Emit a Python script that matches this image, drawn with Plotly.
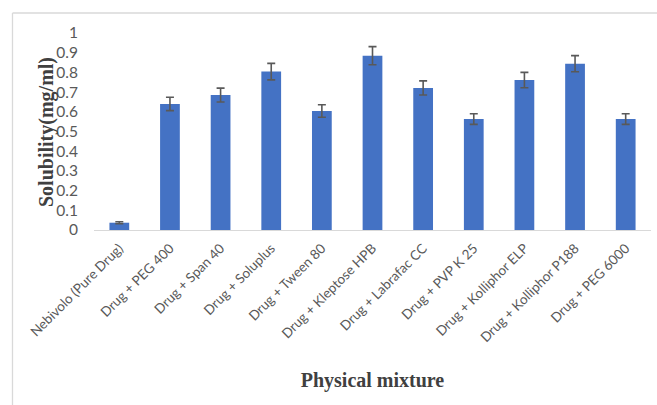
import plotly.graph_objects as go

categories = ["Nebivolo (Pure Drug)", "Drug + PEG 400", "Drug + Span 40", "Drug + Soluplus",
              "Drug + Tween 80", "Drug + Kleptose HPB", "Drug + Labrafac CC", "Drug + PVP K 25",
              "Drug + Kolliphor ELP", "Drug + Kolliphor P188", "Drug + PEG 6000"]
solubility = [0.037, 0.640, 0.685, 0.804, 0.604, 0.885, 0.721, 0.563, 0.761, 0.844, 0.563]
errors = [0.005, 0.034, 0.035, 0.042, 0.032, 0.046, 0.036, 0.027, 0.039, 0.041, 0.027]
y_ticks = [0, 0.1, 0.2, 0.3, 0.4, 0.5, 0.6, 0.7, 0.8, 0.9, 1]
y_tick_text = ["0", "0.1", "0.2", "0.3", "0.4", "0.5", "0.6", "0.7", "0.8", "0.9", "1"]
y_title = "Solubility(mg/ml)"
x_title = "Physical mixture"

fig = go.Figure()
fig.add_trace(go.Bar(
    x=categories, y=solubility,
    marker=dict(color="#4472C4", line=dict(width=0)),
    width=0.39,
    error_y=dict(type="data", array=errors, visible=True, color="#595959", thickness=1.6, width=4),
))

W, H = 657, 405
ml, mr, mt, mb = 94, 6, 33, 175
pw, ph = W - ml - mr, H - mt - mb

def px_x(x):
    return (x - ml) / pw

def px_y(y):
    return (H - mb - y) / ph

fig.update_layout(
    width=W, height=H,
    margin=dict(l=ml, r=mr, t=mt, b=mb, pad=0, autoexpand=False),
    paper_bgcolor="white", plot_bgcolor="white",
    showlegend=False,
    bargap=0.61,
    font=dict(family="Lato, Liberation Sans, sans-serif", color="#595959"),
    xaxis=dict(
        tickangle=-45, tickfont=dict(size=13.5, color="#595959"),
        showline=True, linecolor="#d9d9d9", linewidth=1.3,
        ticks="outside", ticklen=4, tickcolor="white",
        showgrid=False,
        title=dict(text="<b>" + x_title + "</b>",
                   font=dict(family="Liberation Serif, Times New Roman, serif", size=20, color="#404040"),
                   standoff=28),
    ),
    yaxis=dict(
        range=[0, 1], tickvals=y_ticks, ticktext=y_tick_text,
        tickfont=dict(size=15.5, color="#595959"),
        showline=False, showgrid=False, zeroline=False,
        ticks="outside", ticklen=12, tickcolor="white",
    ),
    annotations=[
        dict(text="<b>" + y_title + "</b>", xref="paper", yref="paper",
             x=px_x(46), y=px_y(132), xanchor="center", yanchor="middle",
             textangle=-90, showarrow=False,
             font=dict(family="Liberation Serif, Times New Roman, serif", size=20, color="#404040")),
    ],
    shapes=[
        dict(type="line", xref="paper", yref="paper", x0=px_x(12.5), x1=px_x(W + 5),
             y0=px_y(13), y1=px_y(13), line=dict(color="#d9d9d9", width=1.3)),
        dict(type="line", xref="paper", yref="paper", x0=px_x(12.5), x1=px_x(12.5),
             y0=px_y(13), y1=px_y(H + 5), line=dict(color="#d9d9d9", width=1.3)),
    ],
)

fig.write_html("out.html", config={"displayModeBar": False},
               post_script="document.body.style.margin='0px';document.body.style.overflow='hidden';")
